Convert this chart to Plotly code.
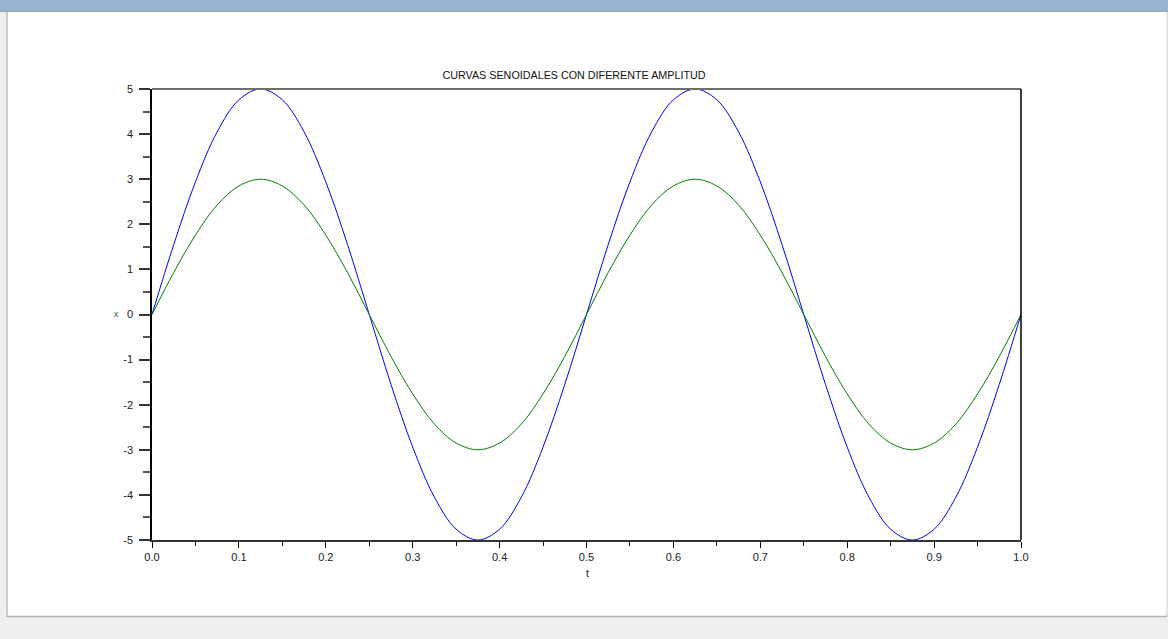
import plotly.graph_objects as go

# Sample times (step 0.025)
t = [0.0, 0.025, 0.05, 0.075, 0.1, 0.125, 0.15, 0.175, 0.2, 0.225,
     0.25, 0.275, 0.3, 0.325, 0.35, 0.375, 0.4, 0.425, 0.45, 0.475,
     0.5, 0.525, 0.55, 0.575, 0.6, 0.625, 0.65, 0.675, 0.7, 0.725,
     0.75, 0.775, 0.8, 0.825, 0.85, 0.875, 0.9, 0.925, 0.95, 0.975, 1.0]

# Blue curve (amplitude 5)
x_blue = [0, 1.55, 2.94, 4.05, 4.76, 5, 4.76, 4.05, 2.94, 1.55,
          0, -1.55, -2.94, -4.05, -4.76, -5, -4.76, -4.05, -2.94, -1.55,
          0, 1.55, 2.94, 4.05, 4.76, 5, 4.76, 4.05, 2.94, 1.55,
          0, -1.55, -2.94, -4.05, -4.76, -5, -4.76, -4.05, -2.94, -1.55, 0]

# Green curve (amplitude 3)
x_green = [0, 0.93, 1.76, 2.43, 2.85, 3, 2.85, 2.43, 1.76, 0.93,
           0, -0.93, -1.76, -2.43, -2.85, -3, -2.85, -2.43, -1.76, -0.93,
           0, 0.93, 1.76, 2.43, 2.85, 3, 2.85, 2.43, 1.76, 0.93,
           0, -0.93, -1.76, -2.43, -2.85, -3, -2.85, -2.43, -1.76, -0.93, 0]

x_ticks = [0.0, 0.1, 0.2, 0.3, 0.4, 0.5, 0.6, 0.7, 0.8, 0.9, 1.0]
x_ticklabels = ["0.0", "0.1", "0.2", "0.3", "0.4", "0.5", "0.6", "0.7", "0.8", "0.9", "1.0"]
y_ticks = [-5, -4, -3, -2, -1, 0, 1, 2, 3, 4, 5]
y_ticklabels = ["-5", "-4", "-3", "-2", "-1", "0", "1", "2", "3", "4", "5"]

title_text = "CURVAS SENOIDALES CON DIFERENTE AMPLITUD"

W, H = 1168, 639
L, R, T, B = 152, 1021, 89, 540
pw, ph = R - L, B - T


def px(xp):
    return (xp - L) / pw


def py(yp):
    return (B - yp) / ph


FONT = "Liberation Sans, Arial, sans-serif"

fig = go.Figure()
fig.add_trace(go.Scatter(x=t, y=x_blue, mode="lines", line=dict(color="#0000ff", width=1, shape="spline"),
                         showlegend=False, hoverinfo="skip"))
fig.add_trace(go.Scatter(x=t, y=x_green, mode="lines", line=dict(color="#008000", width=1, shape="spline"),
                         showlegend=False, hoverinfo="skip"))

shapes = [
    # window frame: top bar
    dict(type="rect", xref="paper", yref="paper", x0=px(0), x1=px(W), y0=py(0), y1=py(11),
         fillcolor="#98b2d2", line=dict(width=0), layer="below"),
    dict(type="line", xref="paper", yref="paper", x0=px(0), x1=px(W), y0=py(11.5), y1=py(11.5),
         line=dict(color="#a8a8a8", width=1)),
    # left border
    dict(type="rect", xref="paper", yref="paper", x0=px(0), x1=px(6.5), y0=py(11), y1=py(639),
         fillcolor="#eeeeee", line=dict(width=0), layer="below"),
    dict(type="line", xref="paper", yref="paper", x0=px(7), x1=px(7), y0=py(12), y1=py(617),
         line=dict(color="#a0a0a0", width=1)),
    # right border
    dict(type="line", xref="paper", yref="paper", x0=px(1167), x1=px(1167), y0=py(12), y1=py(617),
         line=dict(color="#c8c8c8", width=1)),
    # bottom status area
    dict(type="rect", xref="paper", yref="paper", x0=px(0), x1=px(W), y0=py(617), y1=py(639),
         fillcolor="#efefef", line=dict(width=0), layer="below"),
    dict(type="line", xref="paper", yref="paper", x0=px(7), x1=px(1167), y0=py(616.5), y1=py(616.5),
         line=dict(color="#b4b4b4", width=1.5)),
    # top box line (gray)
    dict(type="line", xref="paper", yref="paper", x0=0, x1=1, y0=1, y1=1,
         line=dict(color="#6e6e6e", width=2)),
    # right box line
    dict(type="line", xref="paper", yref="paper", x0=1, x1=1, y0=0, y1=1,
         line=dict(color="#000000", width=1.5)),
]

fig.update_layout(
    width=W, height=H,
    margin=dict(l=L, r=W - R, t=T, b=H - B, pad=0),
    paper_bgcolor="white", plot_bgcolor="white",
    font=dict(family=FONT, size=11, color="#222222"),
    title=dict(text=title_text, x=574 / W, xanchor="center", xref="container",
               y=1 - 75 / H, yanchor="middle", yref="container",
               font=dict(family=FONT, size=10.75, color="#111111")),
    shapes=shapes,
    annotations=[
        dict(text="t", xref="paper", yref="paper", x=px(587), y=py(573), showarrow=False,
             xanchor="center", yanchor="middle", font=dict(family=FONT, size=10.5, color="#222222")),
        dict(text="x", xref="paper", yref="paper", x=px(116), y=py(314), showarrow=False,
             xanchor="center", yanchor="middle", font=dict(family=FONT, size=9, color="#555555")),
    ],
)

fig.update_xaxes(range=[0, 1], tickmode="array", tickvals=x_ticks, ticktext=x_ticklabels,
                 showgrid=False, zeroline=False, showline=True, linecolor="#333333", linewidth=1.5,
                 ticks="outside", ticklen=6, tickcolor="#000000", tickwidth=1,
                 minor=dict(tickmode="array", tickvals=[0.05, 0.15, 0.25, 0.35, 0.45, 0.55, 0.65, 0.75, 0.85, 0.95],
                            ticks="outside", ticklen=4, tickcolor="#000000", tickwidth=1, showgrid=False),
                 tickfont=dict(family=FONT, size=11, color="#222222"), fixedrange=True)
fig.update_yaxes(range=[-5, 5], tickmode="array", tickvals=y_ticks, ticktext=y_ticklabels,
                 showgrid=False, zeroline=False, showline=True, linecolor="#000000", linewidth=1.5,
                 ticks="outside", ticklen=11, tickcolor="#333333", tickwidth=1.5, ticklabelstandoff=4,
                 minor=dict(tickmode="array", tickvals=[-4.5, -3.5, -2.5, -1.5, -0.5, 0.5, 1.5, 2.5, 3.5, 4.5],
                            ticks="outside", ticklen=7, tickcolor="#555555", tickwidth=1.5, showgrid=False),
                 tickfont=dict(family=FONT, size=11, color="#222222"), fixedrange=True)

fig.write_html("out.html", config={"displayModeBar": False})
